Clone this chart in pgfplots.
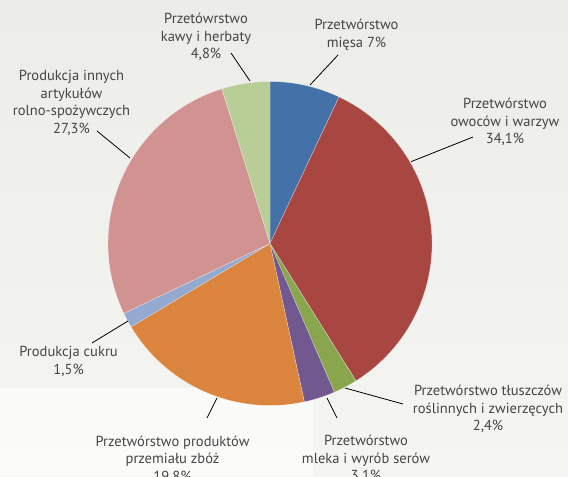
\documentclass[border=0pt]{standalone}
\usepackage{pgfplots}
\pgfplotsset{compat=1.18}
\usepackage{fontspec}
\setmainfont{PT Sans}
\definecolor{bgtop}{HTML}{ECEDE9}
\definecolor{bgbot}{HTML}{F5F6F1}
\definecolor{txt}{HTML}{454545}
\definecolor{cMieso}{HTML}{4471A7}
\definecolor{cOwoce}{HTML}{A84642}
\definecolor{cTluszcz}{HTML}{89A54E}
\definecolor{cMleko}{HTML}{71588F}
\definecolor{cZboze}{HTML}{DB843D}
\definecolor{cCukier}{HTML}{93A9CF}
\definecolor{cInne}{HTML}{D19392}
\definecolor{cKawa}{HTML}{B9CD96}
% slice: cumulative start %, cumulative end %, colour
\newcommand\slice[3]{%
  \pgfmathsetmacro\aLo{90-3.6*#2}%
  \pgfmathsetmacro\aHi{90-3.6*#1}%
  \addplot[fill=#3, draw=white, draw opacity=0.5, line width=0.3pt, domain=\aLo:\aHi, samples=90, variable=\t]
    ({270+162*cos(\t)},{232.5+162*sin(\t)}) -- (axis cs:270,232.5) -- cycle;
}
\begin{document}
\begin{tikzpicture}
\begin{axis}[scale only axis, width=426pt, height=357pt,
  xmin=0, xmax=568, ymin=0, ymax=476, hide axis, clip=false]
\fill[top color=bgtop, bottom color=bgbot] (axis cs:0,0) rectangle (axis cs:568,476);
\fill[white, opacity=0.6] (axis cs:0,0) rectangle (axis cs:313,88);
% percentages: 7, 34.1, 2.4, 3.1, 19.8, 1.5, 27.3, 4.8
\slice{0}{7}{cMieso}
\slice{7}{41.1}{cOwoce}
\slice{41.1}{43.5}{cTluszcz}
\slice{43.5}{46.6}{cMleko}
\slice{46.6}{66.4}{cZboze}
\slice{66.4}{67.9}{cCukier}
\slice{67.9}{95.2}{cInne}
\slice{95.2}{100}{cKawa}
% leader lines
\addplot[black, line width=0.6pt, no marks] coordinates {(231,423) (250,395)};
\addplot[black, line width=0.6pt, no marks] coordinates {(338,421) (310,391)};
\addplot[black, line width=0.6pt, no marks] coordinates {(473,339) (411,314.3)};
\addplot[black, line width=0.6pt, no marks] coordinates {(345,88) (403,72)};
\addplot[black, line width=0.6pt, no marks] coordinates {(327,78) (337,58)};
\addplot[black, line width=0.6pt, no marks] coordinates {(217,78) (207,58)};
\addplot[black, line width=0.6pt, no marks] coordinates {(128,155) (92,133)};
\addplot[black, line width=0.6pt, no marks] coordinates {(97,345) (130,318)};
% labels
\begin{scope}[every node/.style={align=center, text=txt, font=\fontsize{10.9}{13.1}\selectfont, inner sep=0pt}]
\node at (axis cs:206,439) {Przetówrstwo\\kawy i herbaty\\4,8\%};
\node at (axis cs:356.5,441.5) {Przetwórstwo\\mięsa 7\%};
\node at (axis cs:505,354) {Przetwórstwo\\owoców i warzyw\\34,1\%};
\node at (axis cs:488,67) {Przetwórstwo tłuszczów\\roślinnych i zwierzęcych\\2,4\%};
\node at (axis cs:366,17) {Przetwórstwo\\mleka i wyrób serów\\3,1\%};
\node at (axis cs:172.5,16.5) {Przetwórstwo produktów\\przemiału zbóż\\19,8\%};
\node at (axis cs:68.6,114.5) {Produkcja cukru\\1,5\%};
\node at (axis cs:71.5,373) {Produkcja innych\\artykułów\\rolno-spożywczych\\27,3\%};
\end{scope}
\end{axis}
\pgfresetboundingbox
\path (current axis.south west) rectangle (current axis.north east);
\end{tikzpicture}
\end{document}
